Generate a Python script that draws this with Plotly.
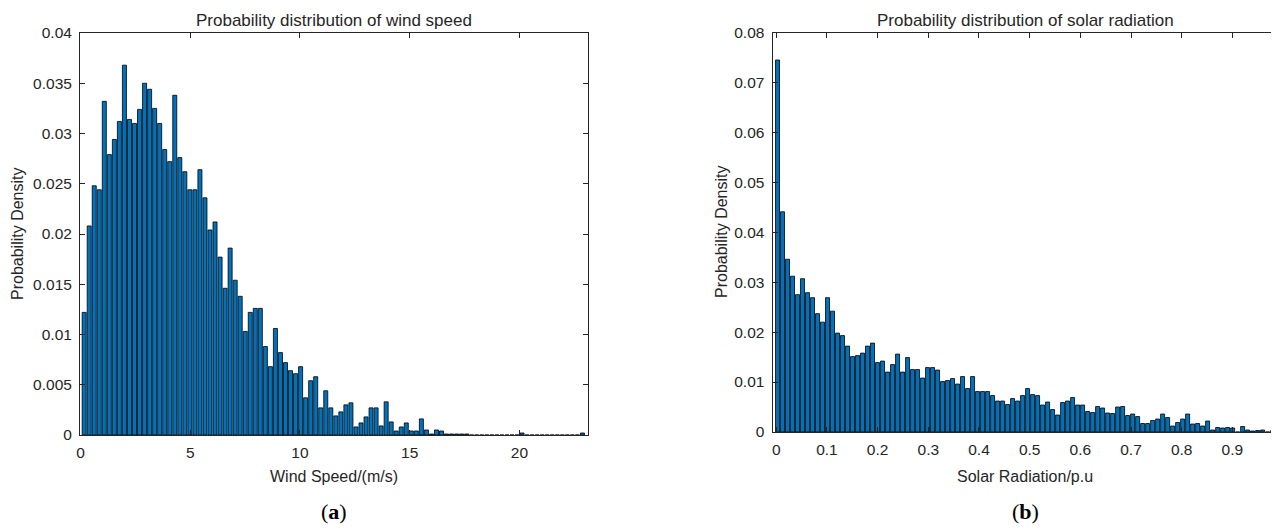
import numpy as np
import plotly.graph_objects as go

# ---------------- data ----------------
wind_first_center = 0.17
wind_bin_width = 0.2293
wind_density = [
    0.0122, 0.0208, 0.0248, 0.0244, 0.0332, 0.0279, 0.0294, 0.0312, 0.0368, 0.0314,
    0.0310, 0.0324, 0.0350, 0.0344, 0.0325, 0.0310, 0.0284, 0.0272, 0.0338, 0.0276,
    0.0262, 0.0244, 0.0244, 0.0264, 0.0236, 0.0204, 0.0212, 0.0177, 0.0146, 0.0186,
    0.0154, 0.0138, 0.0103, 0.0122, 0.0126, 0.0126, 0.0088, 0.0068, 0.0106, 0.0082,
    0.0072, 0.0064, 0.0061, 0.0068, 0.0037, 0.0054, 0.0058, 0.0027, 0.0044, 0.0027,
    0.0019, 0.0023, 0.0030, 0.0032, 0.0008, 0.0012, 0.0018, 0.0027, 0.0027, 0.0009,
    0.0033, 0.0013, 0.0004, 0.0008, 0.0012, 0.0004, 0.0004, 0.0016, 0.0005, 0.0001,
    0.0005, 0.0004, 0.0001, 0.0001, 0.0001, 0.0001, 0.0001, 0.0, 0.0, 0.0,
    0.0, 0.0, 0.0, 0.0, 0.0, 0.0, 0.0, 0.0002, 0.0, 0.0,
    0.0, 0.0, 0.0, 0.0, 0.0, 0.0, 0.0, 0.0, 0.0, 0.0002,
]

solar_first_center = 0.0024
solar_bin_width = 0.00987
solar_density = [
    0.0745, 0.0441, 0.0346, 0.0312, 0.0275, 0.0307, 0.0279, 0.0269, 0.0237, 0.0220,
    0.0269, 0.0242, 0.0198, 0.0193, 0.0172, 0.0151, 0.0153, 0.0158, 0.0172, 0.0178,
    0.0139, 0.0142, 0.0120, 0.0135, 0.0156, 0.0120, 0.0149, 0.0125, 0.0125, 0.0108,
    0.0129, 0.0129, 0.0124, 0.0101, 0.0103, 0.0107, 0.0096, 0.0111, 0.0087, 0.0111,
    0.0081, 0.0081, 0.0081, 0.0073, 0.0062, 0.0062, 0.0055, 0.0067, 0.0062, 0.0073,
    0.0087, 0.0075, 0.0073, 0.0054, 0.0060, 0.0045, 0.0034, 0.0059, 0.0062, 0.0069,
    0.0054, 0.0054, 0.0041, 0.0039, 0.0051, 0.0048, 0.0038, 0.0037, 0.0050, 0.0051,
    0.0033, 0.0036, 0.0031, 0.0017, 0.0017, 0.0023, 0.0026, 0.0036, 0.0029, 0.0012,
    0.0019, 0.0026, 0.0036, 0.0016, 0.0017, 0.0012, 0.0022, 0.0004, 0.0009, 0.0008,
    0.0009, 0.0008, 0.0, 0.0011, 0.0004, 0.0002, 0.0003, 0.0004, 0.0, 0.0003,
]

wind_xticks = [0, 5, 10, 15, 20]
wind_yticks = [0, 0.005, 0.01, 0.015, 0.02, 0.025, 0.03, 0.035, 0.04]
wind_yticktext = ["0", "0.005", "0.01", "0.015", "0.02", "0.025", "0.03", "0.035", "0.04"]
solar_xticks = [0, 0.1, 0.2, 0.3, 0.4, 0.5, 0.6, 0.7, 0.8, 0.9]
solar_xticktext = ["0", "0.1", "0.2", "0.3", "0.4", "0.5", "0.6", "0.7", "0.8", "0.9"]
solar_yticks = [0, 0.01, 0.02, 0.03, 0.04, 0.05, 0.06, 0.07, 0.08]
solar_yticktext = ["0", "0.01", "0.02", "0.03", "0.04", "0.05", "0.06", "0.07", "0.08"]

wind_centers = wind_first_center + wind_bin_width * np.arange(len(wind_density))
solar_centers = solar_first_center + solar_bin_width * np.arange(len(solar_density))

# ---------------- styling ----------------
OFF = 8  # default page body margin
W, H = 1279 - OFF, 531 - OFF
BAR = "#0072BD"
INK = "#262626"
FONT = "Liberation Sans, Arial, sans-serif"

def px(x):
    return (x - OFF) / W

def py(y):
    return 1 - (y - OFF) / H

fig = go.Figure()
fig.add_trace(go.Bar(x=wind_centers, y=wind_density, width=wind_bin_width * 0.8,
                     marker=dict(color=BAR, line=dict(color="black", width=0.8)),
                     xaxis="x", yaxis="y", showlegend=False))
fig.add_trace(go.Bar(x=solar_centers, y=solar_density, width=solar_bin_width * 0.8,
                     marker=dict(color=BAR, line=dict(color="black", width=0.8)),
                     xaxis="x2", yaxis="y2", showlegend=False))

axis_common = dict(showline=True, linecolor=INK, linewidth=1, mirror="ticks",
                   ticks="inside", ticklen=5, tickcolor=INK, tickwidth=1,
                   showgrid=False, zeroline=False, automargin=False,
                   tickfont=dict(family=FONT, size=15.5, color=INK))

fig.update_layout(
    width=W, height=H,
    margin=dict(l=0, r=0, t=0, b=0, pad=0),
    paper_bgcolor="white", plot_bgcolor="white",
    xaxis=dict(domain=[px(80), px(587.7)], range=[-0.02, 23.11], anchor="y",
               tickvals=wind_xticks, ticklabelstandoff=3, **axis_common),
    yaxis=dict(domain=[py(435), py(33)], range=[0, 0.04], anchor="x",
               tickvals=wind_yticks, ticktext=wind_yticktext, ticklabelstandoff=4,
               **axis_common),
    xaxis2=dict(domain=[px(772.5), min(1.0, px(1278.3))], range=[-0.0075, 0.9907], anchor="y2",
                tickvals=solar_xticks, ticktext=solar_xticktext, ticklabelstandoff=3,
                **axis_common),
    yaxis2=dict(domain=[py(432), py(32.5)], range=[0, 0.08], anchor="x2",
                tickvals=solar_yticks, ticktext=solar_yticktext, ticklabelstandoff=4,
                **axis_common),
)

def txt(s, x, y, size, angle=0, family=FONT):
    fig.add_annotation(text=s, x=px(x), y=py(y), xref="paper", yref="paper",
                       showarrow=False, xanchor="center", yanchor="middle",
                       textangle=angle, font=dict(family=family, size=size, color=INK))

txt("Probability distribution of wind speed", 334, 20.5, 17)
txt("Probability distribution of solar radiation", 1025, 20.5, 17)
txt("Wind Speed/(m/s)", 334, 476, 16)
txt("Solar Radiation/p.u", 1025, 476, 16)
txt("Probability Density", 18, 234, 16, angle=-90)
txt("Probability Density", 722, 232, 16, angle=-90)
fig.add_annotation(text="(<b>a</b>)", x=px(334), y=py(511), xref="paper", yref="paper",
                   showarrow=False, xanchor="center", yanchor="middle",
                   font=dict(family="Liberation Serif, serif", size=22, color="black"))
fig.add_annotation(text="(<b>b</b>)", x=px(1025), y=py(511), xref="paper", yref="paper",
                   showarrow=False, xanchor="center", yanchor="middle",
                   font=dict(family="Liberation Serif, serif", size=22, color="black"))

fig.write_html("out.html")
